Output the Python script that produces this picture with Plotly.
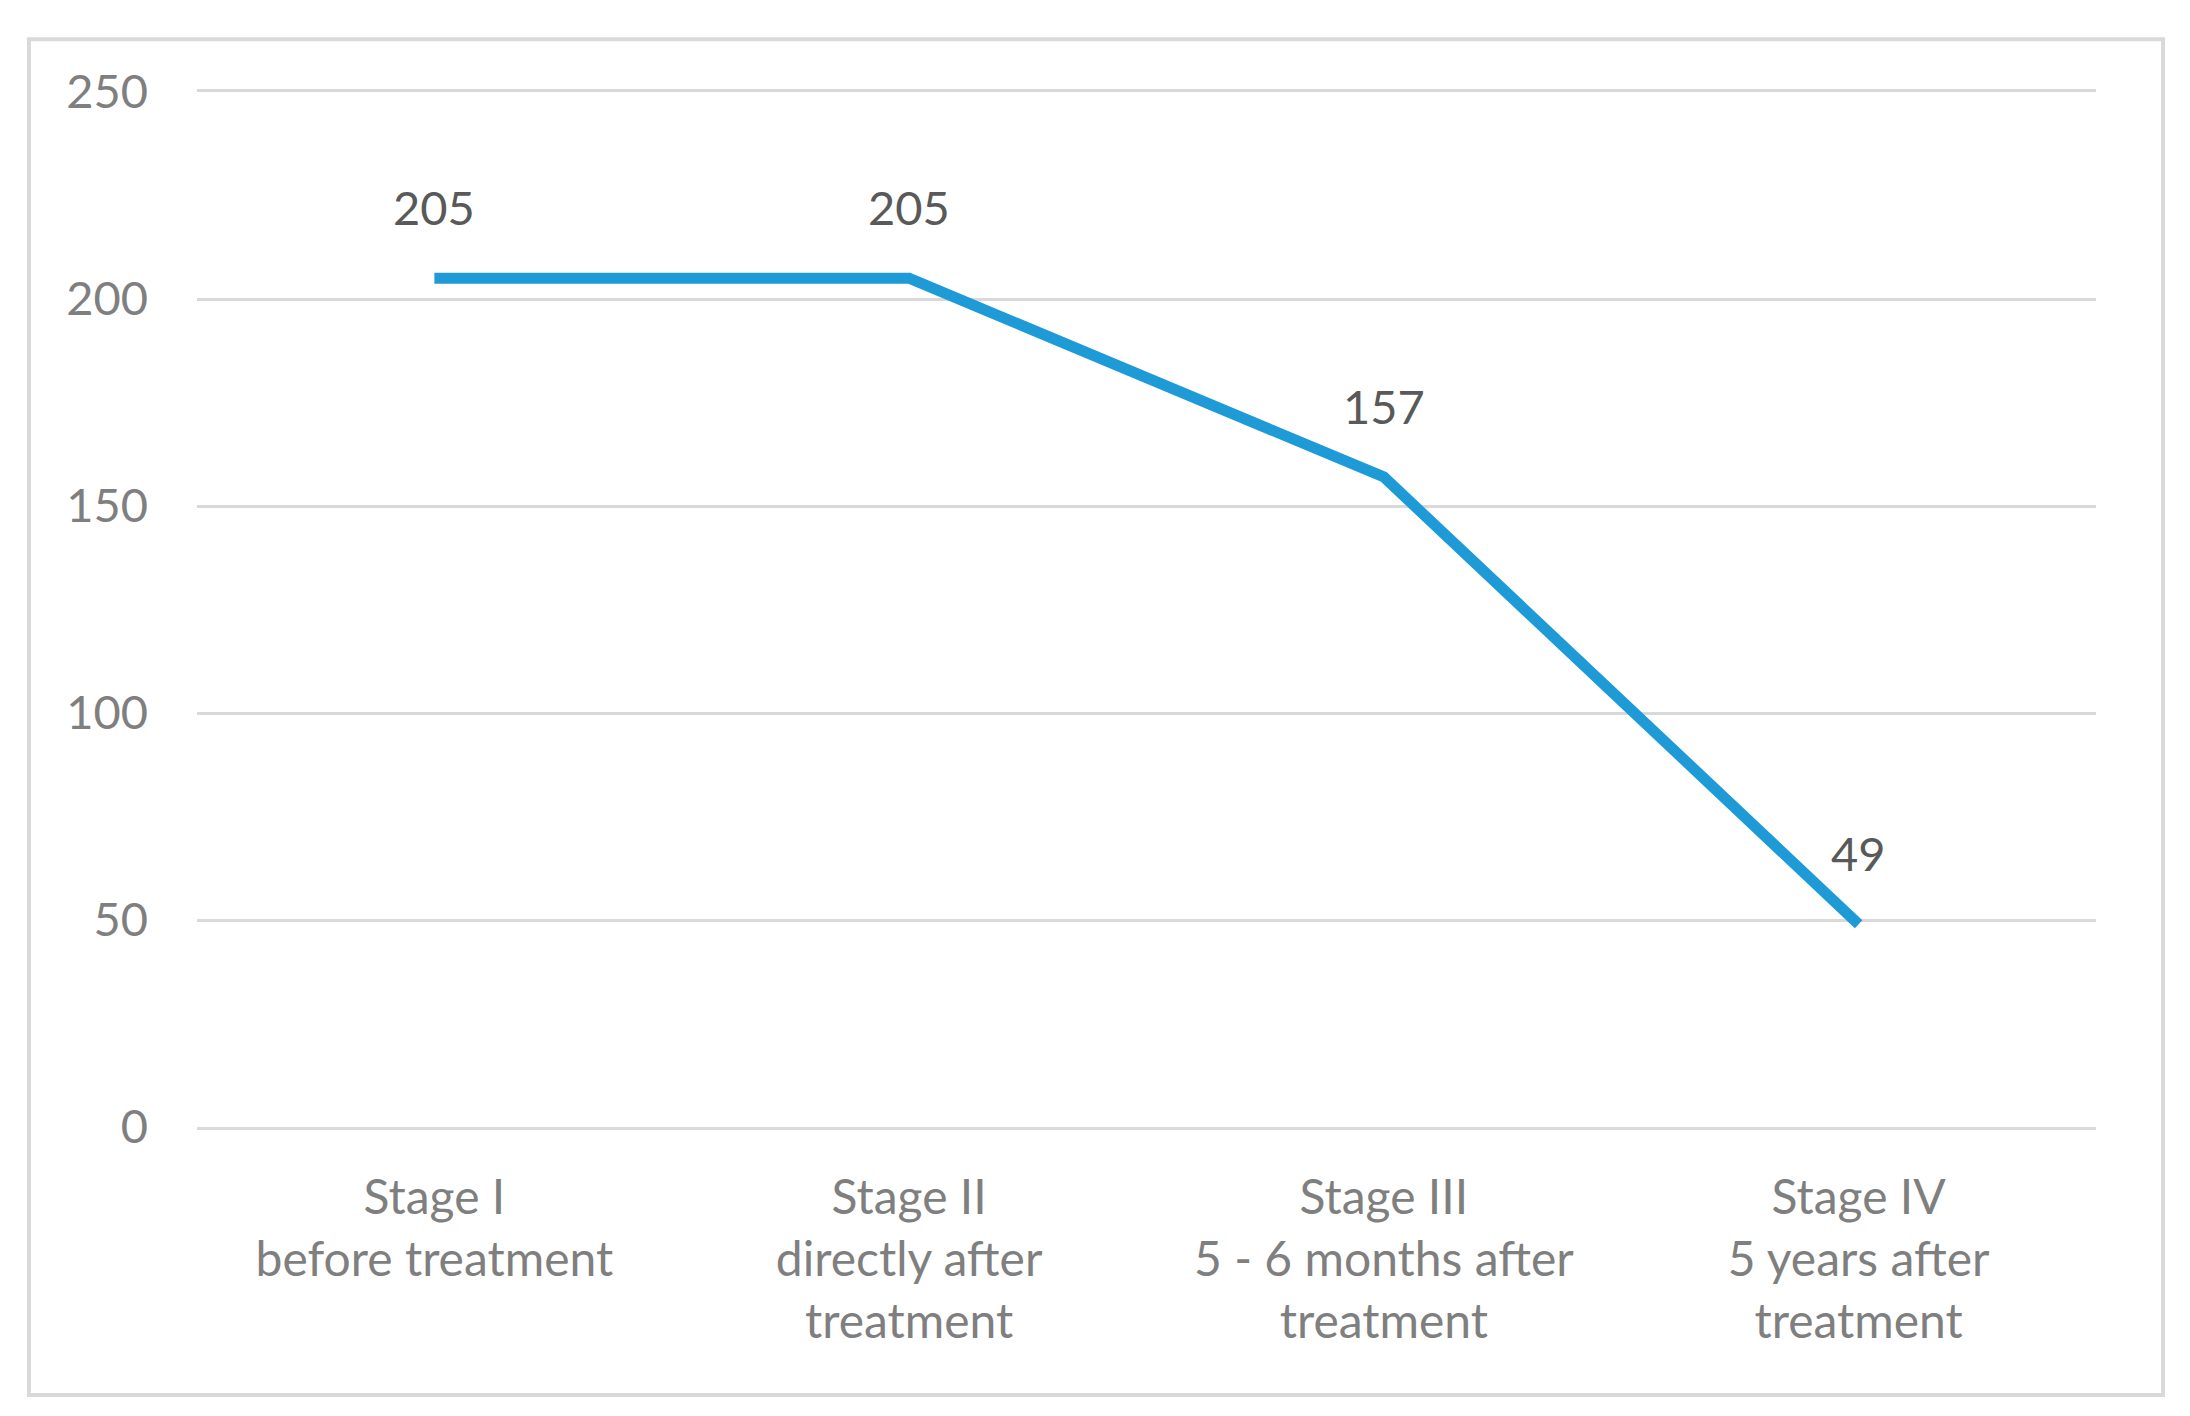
import plotly.graph_objects as go

categories = ["Stage I<br>before treatment",
              "Stage II<br>directly after<br>treatment",
              "Stage III<br>5 - 6 months after<br>treatment",
              "Stage IV<br>5 years after<br>treatment"]
values = [205, 205, 157, 49]
y_ticks = [0, 50, 100, 150, 200, 250]

FONT = "Lato, Carlito, Calibri, sans-serif"
fig = go.Figure()
fig.add_trace(go.Scatter(
    x=categories, y=values, mode="lines",
    line=dict(color="#1E9BD7", width=11, shape="linear"),
    hoverinfo="skip", showlegend=False,
))
for c, v in zip(categories, values):
    fig.add_annotation(x=c, y=v, text=str(v), showarrow=False,
                       yshift=71, yanchor="middle",
                       font=dict(family=FONT, size=47, color="#595959"))

fig.add_shape(type="rect", xref="paper", yref="paper",
              x0=-0.0885, x1=1.0353, y0=-0.259, y1=1.051,
              line=dict(color="#D9D9D9", width=4), fillcolor="rgba(0,0,0,0)", layer="below")

fig.update_layout(
    width=2190, height=1416,
    margin=dict(l=189, r=102, t=84, b=297),
    paper_bgcolor="white", plot_bgcolor="white",
    font=dict(family=FONT, size=47, color="#7F7F7F"),
    xaxis=dict(type="category", range=[-0.5, 3.5], showgrid=False, zeroline=False,
               showline=True, mirror=True, linecolor="#D9D9D9", linewidth=3,
               ticks="", ticklabelstandoff=26,
               tickfont=dict(family=FONT, size=48, color="#7F7F7F")),
    yaxis=dict(range=[0, 250], tickvals=y_ticks, showgrid=True, gridcolor="#D9D9D9",
               gridwidth=3, zeroline=False,
               showline=False, ticks="", ticklabelstandoff=48,
               tickfont=dict(family=FONT, size=47, color="#7F7F7F")),
)
fig.write_html("out.html")
